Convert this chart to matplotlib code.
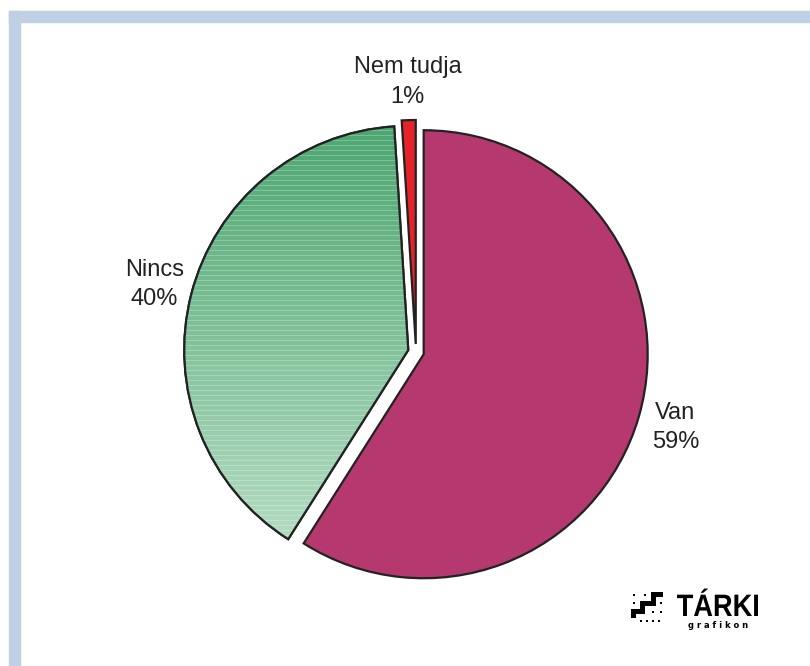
import numpy as np
import matplotlib
matplotlib.use("Agg")
import matplotlib.pyplot as plt
import matplotlib.patches as mpatches
from matplotlib.colors import to_rgb
from matplotlib.textpath import TextPath
from matplotlib.font_manager import FontProperties
from matplotlib.transforms import Affine2D

# ---- data ----
categories = ["Van", "Nincs", "Nem tudja"]
values = [59, 40, 1]
pct_labels = ["59%", "40%", "1%"]
colors = ["#B5386F", "#6DB88A", "#E5232A"]

W, H = 810, 666
fig = plt.figure(figsize=(W / 100, H / 100), dpi=100)
fig.patch.set_facecolor("white")
ax = fig.add_axes([0, 0, 1, 1])

# frame bands (top and left)
frame_c = "#BFCFE4"
fig.patches.append(mpatches.Rectangle((9 / W, 0), 11 / W, (H - 11) / H,
                                      transform=fig.transFigure, color=frame_c, zorder=0))
fig.patches.append(mpatches.Rectangle((9 / W, (H - 22) / H), (W - 9) / W, 11 / H,
                                      transform=fig.transFigure, color=frame_c, zorder=0))

cx, cy, R = 416, H - 352, 224
labels = [f"{c}\n{p}" for c, p in zip(categories, pct_labels)]
wedges, texts = ax.pie(values, labels=labels, colors=colors, startangle=90,
                       counterclock=False, explode=[8, 8, 8],
                       center=(cx, cy), radius=R, labeldistance=1.17, frame=True,
                       wedgeprops=dict(edgecolor="#222222", linewidth=1.6),
                       textprops=dict(fontsize=17, color="#222222",
                                      family="Liberation Sans", linespacing=1.42))
for t in texts:
    t.set_ha("center")
    t.set_va("center")

ax.set_xlim(0, W)
ax.set_ylim(0, H)
ax.set_axis_off()

# gradient with stripes for "Nincs"
wn = wedges[1]
y0, y1 = H - 545, H - 120
n = int(y1 - y0)
top = np.array(to_rgb("#4BA670"))
bot = np.array(to_rgb("#B5DCC3"))
rows = []
for i in range(n):
    f = i / (n - 1)
    c = top * (1 - f) + bot * f
    if i % 5 == 0:
        c = c + (1 - c) * 0.25
    rows.append(c)
img = np.array(rows)[:, None, :]
im = ax.imshow(img, extent=(170, 425, y0, y1), origin="upper", aspect="auto",
               zorder=wn.get_zorder() + 0.1, interpolation="nearest")
im.set_clip_path(wn)
outline = mpatches.Wedge(wn.center, wn.r, wn.theta1, wn.theta2, fill=False,
                         edgecolor="#222222", linewidth=1.6, zorder=wn.get_zorder() + 0.2)
ax.add_patch(outline)
ax.set_xlim(0, W)
ax.set_ylim(0, H)

# TÁRKI logo
def px_rect(x0, y0_, x1, y1_):
    ax.add_patch(mpatches.Rectangle((x0, H - y1_), x1 - x0, y1_ - y0_, color="black", lw=0))

px_rect(651, 592, 663, 597)
px_rect(651, 592, 656, 606)
px_rect(640, 601, 656, 606)
px_rect(640, 601, 645, 614)
px_rect(631, 609, 645, 614)
px_rect(631, 609, 636, 618)
for (dx, dy) in [(633, 594), (633, 602), (644, 594), (660, 602), (652, 611), (660, 611),
                 (640, 620), (646, 620), (652, 620), (658, 620)]:
    px_rect(dx, dy, dx + 2.2, dy + 2.2)

fp = FontProperties(family="Liberation Sans", weight="bold")
tp = TextPath((0, 0), "TÁRKI", size=31, prop=fp)
bb = tp.get_extents()
sx = 81 / bb.width
tr = Affine2D().translate(-bb.x0, 0).scale(sx, 1.0).translate(677, H - 616)
ax.add_patch(mpatches.PathPatch(tr.transform_path(tp), color="black", lw=0))
ax.text(718, H - 625, "g r a f i k o n", fontsize=6, fontweight="bold", family="DejaVu Sans",
        color="black", ha="center", va="center")

fig.savefig("out.png", dpi=100)
